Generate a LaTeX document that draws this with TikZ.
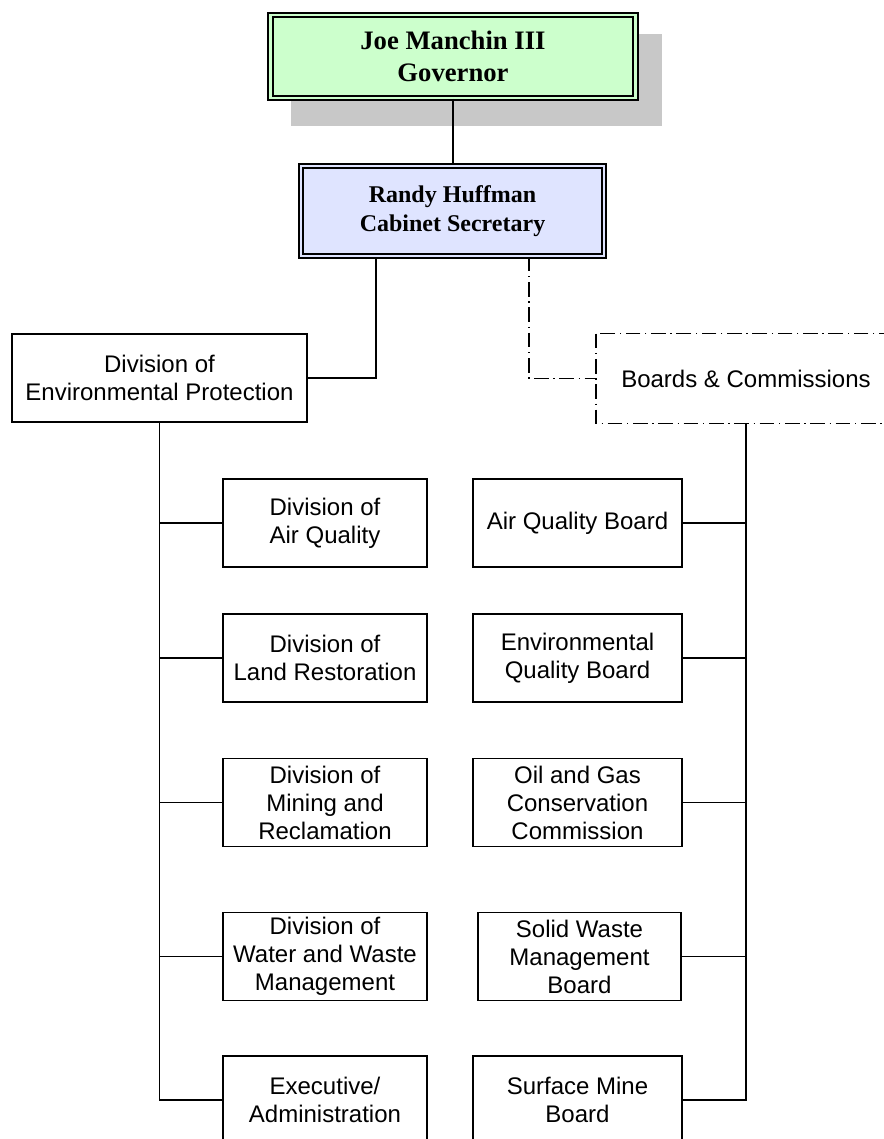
\documentclass[tikz,border=0pt]{standalone}
\usepackage{fontspec}
\setmainfont{Liberation Sans}
\newfontfamily\chieffont{Liberation Serif}
\usepackage{tikz}
\usetikzlibrary{calc}
\definecolor{govgreen}{HTML}{CCFFCC}
\definecolor{seclav}{HTML}{DFE4FF}
\definecolor{shadowgray}{HTML}{C8C8C8}

\begin{document}
\begin{tikzpicture}[x=0.75pt,y=-0.75pt,
    unitbox/.style={rectangle,draw=black,line width=1.3pt,fill=white,
          minimum width=153pt,minimum height=66pt,inner sep=1pt,align=center,
          font=\fontsize{18pt}{21pt}\selectfont},
    boardbox/.style={unitbox,minimum width=156.75pt},
    chiefbox/.style={rectangle,draw=black,line width=1.2pt,double distance=2.2pt,
          align=center,inner sep=1pt,font=\fontsize{18pt}{22pt}\selectfont\chieffont\bfseries},
    orgline/.style={line width=1.3pt},
    dashdot/.style={line width=1pt,dash pattern=on 11pt off 3.5pt on 1pt off 3.5pt}]
      \useasboundingbox(0,0)rectangle(884,1139);
      \fill[shadowgray](291,34)rectangle(662,126);
      \node[chiefbox,fill=govgreen,double=govgreen,
            minimum width=273.75pt,minimum height=62.25pt,
            font=\fontsize{20pt}{24pt}\selectfont\chieffont\bfseries]
            (gov)at(453,56.5)   {Joe Manchin III\\Governor};
      \node[chiefbox,fill=seclav,double=seclav,
            minimum width=227.25pt,minimum height=67.5pt]
            (sec)at(452.5,211)  {Randy Huffman\\Cabinet Secretary};
      \node[unitbox,minimum width=221.25pt]
            (dep)at(159.5,378)  {Division of\\Environmental Protection};
      \node[unitbox,draw=none,minimum width=223.5pt]
            (boards)at(746,378.5){Boards \& Commissions};
      \draw[dashdot](boards.north west)rectangle(boards.south east);
      \node[unitbox](air)at(325,523)    {Division of\\Air Quality};
      \node[unitbox](land)at(325,658)   {Division of\\Land Restoration};
      \node[unitbox](mine)at(325,802.5) {Division of\\Mining and\\Reclamation};
      \node[unitbox](water)at(325,956.5){Division of\\Water and Waste\\Management};
      \node[unitbox](exec)at(325,1100)  {Executive/\\Administration};
      \node[boardbox](aqb)at(577.5,523)   {Air Quality Board};
      \node[boardbox](eqb)at(577.5,658)   {Environmental\\Quality Board};
      \node[boardbox](ogc)at(577.5,802.5) {Oil and Gas\\Conservation\\Commission};
      \node[boardbox,minimum width=152.25pt]
            (swm)at(579.5,956.5){Solid Waste\\Management\\Board};
      \node[boardbox](smb)at(577.5,1100)  {Surface Mine\\Board};
      \draw[orgline](gov.south)--(gov.south|-sec.north);
      \draw[orgline](dep.east)-|([xshift=-57.4pt]sec.south);
      \draw[dashdot]([xshift=57.4pt]sec.south)|-(boards.west);
      \draw[orgline](dep.south)|-(exec.west);
      \draw[orgline](dep.south|-air.west)--(air.west);
      \draw[orgline](dep.south|-land.west)--(land.west);
      \draw[orgline](dep.south|-mine.west)--(mine.west);
      \draw[line width=0.7pt](dep.south|-water.west)--(water.west);
      \draw[orgline](boards.south)|-(smb.east);
      \draw[orgline](boards.south|-aqb.east)--(aqb.east);
      \draw[orgline](boards.south|-eqb.east)--(eqb.east);
      \draw[orgline](boards.south|-ogc.east)--(ogc.east);
      \draw[orgline](boards.south|-swm.east)--(swm.east);
    \end{tikzpicture}
\end{document}
